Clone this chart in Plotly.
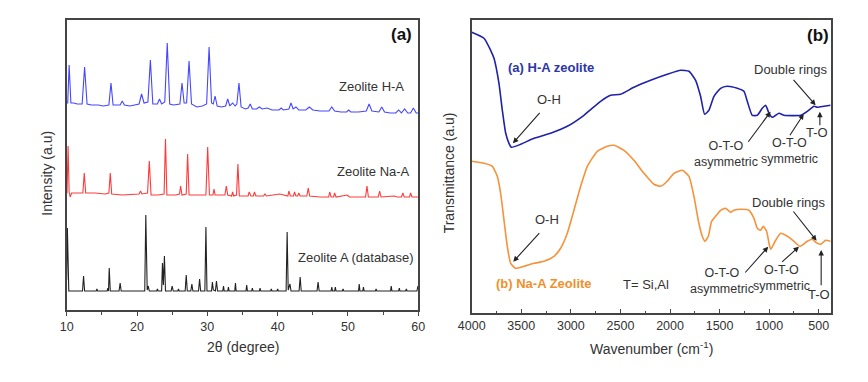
import plotly.graph_objects as go

# ---- (a) XRD patterns (intensity in arbitrary units) ----
ha_2theta = [10.0, 10.15, 10.35, 10.6, 11.0, 11.5, 12.2, 12.55, 12.9, 13.5, 14.5, 15.2, 16.0, 16.3, 16.6,
             17.6, 17.9, 18.2, 19.0, 19.6, 20.3, 20.65, 21.0, 21.55, 21.9, 22.25, 22.9, 23.2, 23.5, 23.95,
             24.3, 24.65, 25.2, 26.1, 26.4, 26.7, 27.05, 27.4, 27.75, 28.5, 29.3, 29.9, 30.25, 30.6, 30.85,
             31.1, 31.4, 32.0, 32.6, 32.9, 33.2, 33.6, 33.95, 34.2, 34.5, 34.8, 35.4, 35.8, 36.1, 36.4,
             37.0, 37.4, 37.8, 38.5, 39.2, 40.2, 40.5, 40.8, 41.6, 41.9, 42.2, 42.6, 43.0, 44.0, 44.5,
             45.0, 46.0, 47.3, 47.7, 48.1, 49.0, 49.8, 50.1, 50.4, 51.5, 52.6, 53.0, 53.4, 54.4, 54.8,
             55.2, 56.0, 56.8, 57.2, 57.6, 58.05, 58.5, 58.9, 59.3, 59.7, 60.0]
ha_int = [207, 207, 245, 207, 207, 206, 206, 243, 206, 205, 205, 204, 205, 227, 205,
          205, 209, 205, 204, 205, 206, 216, 207, 208, 250, 206, 206, 211, 206, 208,
          267, 206, 205, 206, 227, 207, 207, 249, 206, 203, 204, 206, 263, 207, 206,
          214, 204, 203, 204, 211, 204, 207, 204, 206, 227, 203, 201, 202, 206, 201,
          201, 203, 201, 202, 200, 200, 202, 200, 201, 207, 201, 203, 200, 200, 203,
          200, 199, 199, 203, 199, 198, 198, 200, 198, 198, 199, 206, 199, 198, 203,
          198, 197, 197, 200, 197, 201, 197, 197, 202, 197, 197]

naa_2theta = [10.0, 10.05, 10.2, 10.35, 10.5, 10.7, 11.5, 12.3, 12.5, 12.7, 14.0, 15.5, 16.0, 16.2, 16.4,
              17.9, 20.3, 20.5, 20.7, 21.5, 21.75, 22.0, 23.0, 23.85, 24.05, 24.25, 25.5, 26.05, 26.2,
              26.4, 27.0, 27.2, 27.4, 28.5, 29.8, 30.05, 30.3, 30.8, 30.95, 31.1, 32.5, 32.7, 32.9,
              33.45, 33.6, 33.75, 34.15, 34.35, 34.55, 35.8, 35.95, 36.2, 36.55, 36.7, 36.9, 38.0, 38.2,
              38.4, 40.3, 41.45, 41.6, 41.8, 42.25, 42.4, 42.6, 42.85, 43.0, 43.2, 44.15, 44.35, 44.55,
              46.0, 47.25, 47.4, 47.6, 47.95, 48.1, 48.3, 49.9, 50.2, 52.5, 52.7, 52.9, 54.3, 54.5,
              54.7, 56.6, 57.0, 57.6, 57.8, 58.0, 58.75, 58.9, 59.1, 60.0]
naa_int = [117, 117, 164, 118, 113, 117, 117, 117, 137, 117, 117, 116, 117, 137, 116,
           115, 116, 119, 116, 117, 149, 115, 115, 116, 171, 115, 115, 116, 124,
           115, 116, 156, 115, 115, 115, 163, 115, 115, 121, 115, 115, 124, 115,
           114, 118, 114, 115, 146, 114, 114, 118, 114, 114, 118, 114, 114, 116,
           114, 116, 114, 119, 114, 114, 118, 114, 114, 117, 114, 114, 122, 114,
           113, 113, 118, 113, 113, 117, 113, 115, 113, 113, 124, 113, 113, 119,
           113, 114, 113, 113, 117, 113, 113, 117, 113, 113]

db_2theta = [10.0, 10.1, 10.3, 12.25, 12.4, 12.55, 14.2, 14.3, 14.4, 15.75, 15.85, 15.95, 16.05, 16.2,
             17.45, 17.6, 17.75, 21.1, 21.25, 21.45, 21.6, 21.75, 22.8, 22.9, 23.0, 23.5, 23.62, 23.75,
             23.9, 24.05, 24.85, 25.0, 25.15, 25.8, 25.9, 26.0, 26.85, 27.0, 27.15, 27.65, 27.8, 27.95,
             28.75, 28.9, 29.05, 29.65, 29.8, 29.95, 30.6, 30.72, 30.85, 31.15, 31.3, 31.45, 32.2, 32.3,
             32.4, 32.9, 33.0, 33.1, 33.9, 34.0, 34.1, 35.5, 35.6, 35.7, 36.3, 36.4, 36.5, 37.4, 37.5,
             37.6, 39.0, 39.1, 39.2, 39.9, 40.0, 40.1, 41.2, 41.35, 41.5, 41.75, 41.9, 43.05, 43.2, 43.35,
             45.6, 45.75, 45.9, 47.6, 47.7, 47.8, 48.1, 48.2, 48.3, 49.2, 49.3, 49.4, 51.5, 51.6, 51.7,
             52.1, 52.2, 52.3, 53.9, 54.0, 54.1, 56.05, 56.15, 56.25, 57.2, 57.3, 57.4, 58.2, 58.3, 58.4,
             59.8, 59.95, 60.0]
db_int = [30, 82, 19, 19, 34, 19, 19, 21, 19, 19, 22, 19, 42, 19,
          19, 27, 19, 19, 95, 20, 24, 19, 19, 21, 19, 19, 47, 25,
          54, 19, 19, 24, 19, 19, 21, 19, 19, 35, 19, 19, 26, 19,
          19, 31, 19, 19, 83, 19, 19, 28, 20, 19, 29, 19, 19, 24,
          19, 19, 23, 19, 19, 27, 19, 19, 25, 19, 19, 22, 19, 19, 22,
          19, 19, 21, 19, 19, 21, 19, 19, 78, 20, 26, 19, 19, 33, 19,
          19, 28, 19, 19, 23, 19, 19, 23, 19, 19, 21, 19, 19, 26, 19,
          19, 23, 19, 19, 21, 19, 19, 24, 19, 19, 22, 19, 19, 21, 19,
          19, 24, 22]

# ---- (b) FTIR spectra ----
ha_wn = [4000, 3876, 3809, 3775, 3725, 3691, 3657, 3624, 3600, 3506, 3372, 3204, 3036, 2868, 2700,
         2599, 2498, 2364, 2196, 2028, 1893, 1809, 1742, 1692, 1651, 1608, 1557, 1490, 1423, 1322,
         1255, 1221, 1171, 1120, 1070, 1036, 1002, 968, 935, 901, 851, 683, 616, 565, 548, 515, 448, 381]
ha_trans = [281, 275, 263, 255, 230, 203, 180, 170, 166, 169, 175, 180, 187, 198, 212,
            218, 219, 226, 233, 239, 243, 242, 233, 217, 199, 203, 217, 225, 227, 225,
            222, 212, 198, 198, 205, 208, 200, 196, 198, 200, 198, 198, 202, 206, 207, 206, 207, 208]

na_wn = [4000, 3876, 3792, 3742, 3708, 3674, 3641, 3607, 3557, 3473, 3372, 3271, 3170, 3103, 3036,
         2969, 2901, 2834, 2733, 2632, 2565, 2464, 2364, 2263, 2162, 2095, 2028, 1961, 1877, 1809,
         1759, 1709, 1675, 1648, 1614, 1581, 1541, 1490, 1440, 1389, 1356, 1289, 1205, 1154, 1120,
         1087, 1060, 1026, 1002, 985, 935, 884, 817, 750, 690, 616, 565, 531, 481, 431, 381]
na_trans = [152, 150, 147, 137, 120, 93, 67, 50, 45, 47, 50, 52, 57, 65, 80,
            103, 127, 147, 162, 167, 168, 163, 153, 140, 129, 127, 132, 140, 143, 137,
            117, 90, 77, 72, 77, 92, 97, 103, 105, 101, 103, 104, 103, 95, 85,
            83, 87, 82, 70, 64, 73, 80, 77, 72, 67, 72, 74, 71, 69, 73, 72]

FONT = "Liberation Sans, Arial, sans-serif"
TXT = "#333333"

fig = go.Figure()
fig.add_trace(go.Scatter(x=ha_2theta, y=ha_int, mode="lines", line=dict(color="#4646ff", width=1.1),
                         xaxis="x", yaxis="y"))
fig.add_trace(go.Scatter(x=naa_2theta, y=naa_int, mode="lines", line=dict(color="#ff3a3a", width=1.1),
                         xaxis="x", yaxis="y"))
fig.add_trace(go.Scatter(x=db_2theta, y=db_int, mode="lines", line=dict(color="#222222", width=1.1),
                         xaxis="x", yaxis="y"))
fig.add_trace(go.Scatter(x=ha_wn, y=ha_trans, mode="lines",
                         line=dict(color="#1f22a8", width=1.6, shape="spline", smoothing=0.5),
                         xaxis="x2", yaxis="y2"))
fig.add_trace(go.Scatter(x=na_wn, y=na_trans, mode="lines",
                         line=dict(color="#f5923a", width=1.6, shape="spline", smoothing=0.5),
                         xaxis="x2", yaxis="y2"))

frame = dict(showline=True, mirror=True, linecolor="#444444", linewidth=1.5,
             showgrid=False, zeroline=False, automargin=False)

# the page body adds an 8px offset, domains below account for it
fig.update_layout(
    width=868, height=382,
    margin=dict(l=0, r=0, t=0, b=0, autoexpand=False),
    paper_bgcolor="white", plot_bgcolor="white",
    showlegend=False,
    font=dict(family=FONT, color=TXT, size=13),
    xaxis=dict(domain=[0.0676, 0.4727], range=[10, 60], anchor="y", dtick=10, tick0=0,
               ticks="outside", ticklen=4, tickcolor="#444444",
               minor=dict(ticks="outside", ticklen=3, dtick=5, tickcolor="#444444"),
               tickfont=dict(size=12.5), **frame),
    yaxis=dict(domain=[0.2094, 0.9686], range=[0, 290], anchor="x", showticklabels=False, ticks="",
               **frame),
    xaxis2=dict(domain=[0.5342, 0.9478], range=[4000, 380], anchor="y2", dtick=500, tick0=0,
                ticks="inside", ticklen=5, tickcolor="#444444",
                minor=dict(ticks="inside", ticklen=3, dtick=250, tickcolor="#444444"),
                tickfont=dict(size=12.5), **frame),
    yaxis2=dict(domain=[0.2008, 0.9686], range=[0, 293.3], anchor="x2", showticklabels=False, ticks="",
                **frame),
)

ann = []
# axis titles
titles = [
    ("2θ (degree)", 0.2702, 0.1113, 0),
    ("Intensity (a.u)", 0.0446, 0.568, -90),
    ("Wavenumber (cm<sup>-1</sup>)", 0.7414, 0.1099, 0),
    ("Transmittance (a.u)", 0.5081, 0.5673, -90),
]
for text, x, y, angle in titles:
    ann.append(dict(text=text, xref="paper", yref="paper", x=x, y=y, xanchor="center", yanchor="middle",
                    textangle=angle, showarrow=False, font=dict(size=14)))

# panel (a) labels
ann.append(dict(text="<b>(a)</b>", xref="x", yref="y", x=57.6, y=275, showarrow=False, font=dict(size=17, color="#111")))
ann.append(dict(text="Zeolite H-A", xref="x", yref="y", x=53.4, y=223, showarrow=False, font=dict(size=13)))
ann.append(dict(text="Zeolite Na-A", xref="x", yref="y", x=53.7, y=139, showarrow=False, font=dict(size=13)))
ann.append(dict(text="Zeolite A (database)", xref="x", yref="y", x=51.1, y=53, showarrow=False, font=dict(size=13)))

# panel (b) text labels
labels_b = [
    ("<b>(b)</b>", 511, 278, "center", 17, "#111"),
    ("<b>(a) H-A zeolite</b>", 3657, 245.6, "left", 13, "#2b36a8"),
    ("O-H", 3221, 214, "center", 13, TXT),
    ("Double rings", 781, 244, "center", 13, TXT),
    ("T-O", 522, 181, "center", 13, TXT),
    ("O-T-O<br>asymmetric", 1435, 159.6, "center", 12.5, TXT),
    ("O-T-O<br>symmetric", 793, 161.8, "center", 12.5, TXT),
    ("<b>(b) Na-A Zeolite</b>", 3775, 29.3, "left", 13, "#f0902c"),
    ("O-H", 3238, 93.3, "center", 13, TXT),
    ("T= Si,Al", 2246, 28.3, "center", 13, TXT),
    ("Double rings", 808, 111, "center", 13, TXT),
    ("O-T-O<br>asymmetric", 1473, 32.2, "center", 12.5, TXT),
    ("O-T-O<br>symmetric", 880, 35.2, "center", 12.5, TXT),
    ("T-O", 495, 19, "center", 13, TXT),
]
for text, x, y, xa, size, color in labels_b:
    ann.append(dict(text=text, xref="x2", yref="y2", x=x, y=y, xanchor=xa, showarrow=False,
                    font=dict(size=size, color=color)))

# arrows in panel (b): (head_x, head_y, tail_x, tail_y)
arrows_b = [
    (3584, 170, 3301, 202),
    (532, 208, 768, 235),
    (489, 201.6, 489, 186.6),
    (986, 201.6, 1222, 170),
    (652, 199.3, 801, 176.6),
    (3581, 51.6, 3304, 81.6),
    (522, 72.6, 768, 103.3),
    (1010, 66.6, 1255, 39.3),
    (700, 66.6, 885, 50),
    (476, 63.3, 476, 26.6),
]
for hx, hy, tx, ty in arrows_b:
    ann.append(dict(text="", xref="x2", yref="y2", axref="x2", ayref="y2", x=hx, y=hy, ax=tx, ay=ty,
                    showarrow=True, arrowhead=2, arrowsize=1, arrowwidth=1.1, arrowcolor="#222222"))

fig.update_layout(annotations=ann)

fig.write_html("out.html")
